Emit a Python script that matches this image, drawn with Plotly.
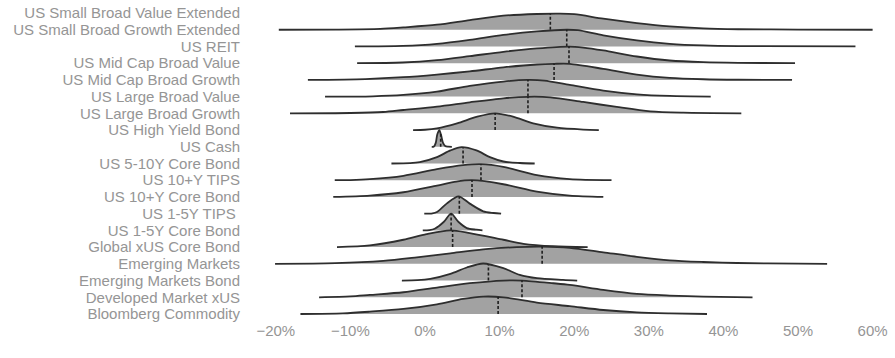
import numpy as np
import plotly.graph_objects as go

# Axis labels, top to bottom
asset_labels = [
    "US Small Broad Value Extended",
    "US Small Broad Growth Extended",
    "US REIT",
    "US Mid Cap Broad Value",
    "US Mid Cap Broad Growth",
    "US Large Broad Value",
    "US Large Broad Growth",
    "US High Yield Bond",
    "US Cash",
    "US 5-10Y Core Bond",
    "US 10+Y TIPS",
    "US 10+Y Core Bond",
    "US 1-5Y TIPS ",
    "US 1-5Y Core Bond",
    "Global xUS Core Bond",
    "Emerging Markets",
    "Emerging Markets Bond",
    "Developed Market xUS",
    "Bloomberg Commodity",
]

# Ridges (return in %, density in row heights), same order as the labels they sit on
ridge_names = asset_labels[1:]

ridge_pct = [
    [-19.6, -12, -6, -2.9, 1.6, 6, 10.5, 15, 18, 20, 23.9, 28.4, 32.8, 37.3, 42, 50, 60],
    [-9.4, -3, 1.6, 6, 10.5, 15, 19, 20.5, 23.9, 28.4, 32.8, 37.3, 42, 57.7],
    [-9.1, -3, 1.6, 6, 10.5, 15, 19.3, 21.2, 23.9, 28.4, 32.8, 37.3, 42, 49.6],
    [-15.7, -8, -2.9, 1.6, 6, 10.5, 15, 17.3, 19.4, 23.9, 28.4, 32.8, 37.3, 42, 49.2],
    [-13.4, -7, -2.9, 1.6, 6, 10.5, 13.7, 16, 19.4, 23.9, 28.4, 32.8, 38.3],
    [-18.1, -10, -5.6, -2.9, 1.6, 6, 10.5, 13.8, 16.8, 21.2, 25.7, 30.2, 34.6, 42.4],
    [-1.6, 0, 1.6, 4.3, 7, 9.4, 11.8, 14.5, 17.7, 21.2, 23.3],
    [0.9, 1.2, 1.45, 1.65, 1.92, 2.15, 2.4, 2.7, 3.1, 3.6],
    [-4.5, -2, -0.7, 1.6, 3.4, 4.9, 6.9, 8.7, 10.5, 12.7, 14.7],
    [-12.1, -10, -7.4, -2.9, 1.6, 5.1, 7.5, 10.5, 15, 19.4, 25],
    [-12.3, -7.4, -2.9, 1.6, 4.2, 6.3, 10.5, 15, 19.4, 23.9],
    [-0.1, 1.0, 1.6, 2.9, 4.5, 6.0, 7.8, 9.2, 10.2],
    [-0.3, 0.6, 1.3, 2.5, 3.5, 4.5, 5.6, 6.9, 7.7],
    [-11.8, -7.4, -2.9, 0.2, 3.4, 6, 10.5, 13.2, 17.2, 21.8],
    [-20.1, -12, -5.6, -1.1, 3.4, 7.8, 12.3, 15.7, 19.4, 23.9, 28.4, 32.8, 37.3, 41.8, 50, 53.9],
    [-3.1, -1, 0.7, 3.4, 5.6, 7.8, 10.5, 12.7, 15, 18.5, 20.4],
    [-14.2, -10, -7.4, -2.9, 1.6, 6, 10.5, 13, 17.2, 19.4, 23.9, 28.4, 32.8, 37.3, 43.9],
    [-16.7, -11, -7.4, -2.9, 1.6, 5.1, 7.8, 10.5, 15, 19.4, 23.9, 28.4, 32.8, 37.8],
]

ridge_density = [
    [0, 0.01, 0.05, 0.14, 0.30, 0.58, 0.84, 0.94, 0.96, 0.93, 0.66, 0.40, 0.20, 0.08, 0.03, 0.01, 0],
    [0, 0.03, 0.15, 0.39, 0.69, 0.90, 1.0, 0.97, 0.66, 0.36, 0.16, 0.06, 0.02, 0],
    [0, 0.04, 0.18, 0.42, 0.68, 0.88, 0.99, 0.93, 0.76, 0.40, 0.16, 0.06, 0.02, 0],
    [0, 0.05, 0.16, 0.32, 0.51, 0.75, 0.92, 0.96, 0.96, 0.66, 0.32, 0.12, 0.04, 0.01, 0],
    [0, 0.02, 0.10, 0.30, 0.64, 0.90, 1.0, 0.96, 0.70, 0.36, 0.14, 0.04, 0],
    [0, 0.02, 0.08, 0.20, 0.40, 0.66, 0.90, 0.99, 0.96, 0.68, 0.38, 0.12, 0.04, 0],
    [0, 0.02, 0.10, 0.40, 0.80, 1.0, 0.80, 0.40, 0.14, 0.03, 0],
    [0, 0.02, 0.25, 0.75, 1.0, 0.70, 0.25, 0.05, 0.01, 0],
    [0, 0.02, 0.08, 0.38, 0.78, 0.98, 0.78, 0.38, 0.12, 0.03, 0],
    [0, 0.01, 0.06, 0.26, 0.66, 0.90, 0.96, 0.80, 0.30, 0.06, 0],
    [0, 0.08, 0.28, 0.68, 0.92, 1.0, 0.76, 0.32, 0.08, 0],
    [0, 0.02, 0.10, 0.60, 1.04, 0.60, 0.14, 0.04, 0],
    [0, 0.02, 0.10, 0.50, 1.0, 0.50, 0.14, 0.04, 0],
    [0, 0.10, 0.44, 0.78, 1.0, 0.84, 0.44, 0.20, 0.05, 0],
    [0, 0.04, 0.18, 0.39, 0.63, 0.86, 1.0, 1.03, 0.96, 0.69, 0.42, 0.21, 0.11, 0.05, 0.01, 0],
    [0, 0.02, 0.10, 0.40, 0.78, 1.02, 0.74, 0.34, 0.14, 0.04, 0],
    [0, 0.05, 0.14, 0.30, 0.58, 0.84, 1.0, 1.0, 0.84, 0.74, 0.44, 0.20, 0.10, 0.04, 0],
    [0, 0.04, 0.14, 0.30, 0.58, 0.90, 1.04, 1.0, 0.68, 0.47, 0.24, 0.10, 0.04, 0],
]

medians = [16.8, 19.0, 19.3, 17.3, 13.8, 13.8, 9.4, 2.1, 5.1, 7.5, 6.3, 4.6, 3.5, 3.7, 15.7, 8.5, 13.0, 9.8]

x_ticks = [-20, -10, 0, 10, 20, 30, 40, 50, 60]
x_tick_text = ["\u221220%", "\u221210%", "0%", "10%", "20%", "30%", "40%", "50%", "60%"]

FILL = "#a2a2a2"
LINE = "#2e2e2e"
TEXT = "#959595"
FONT = "Liberation Sans, Arial, sans-serif"

n_rows = len(asset_labels)
row_of = {name: n_rows - 1 - i for i, name in enumerate(asset_labels)}

fig = go.Figure()

# draw from the top ridge downwards so lower ridges overlap the ones above
for name, pct, dens, med in zip(ridge_names, ridge_pct, ridge_density, medians):
    base = row_of[name]
    pct = np.asarray(pct, dtype=float)
    top = base + np.asarray(dens, dtype=float)

    fig.add_trace(go.Scatter(
        x=[pct[0], pct[-1]], y=[base, base], mode="lines",
        line=dict(width=0, color="rgba(0,0,0,0)"), hoverinfo="skip", showlegend=False))
    fig.add_trace(go.Scatter(
        x=pct, y=top, mode="lines", fill="tonexty", fillcolor=FILL,
        line=dict(color=LINE, width=1.8, shape="spline", smoothing=0.8),
        name=name, showlegend=False))

    h_med = base + float(np.interp(med, pct, dens))
    fig.add_trace(go.Scatter(
        x=[med, med], y=[base, h_med], mode="lines",
        line=dict(color="#1e1e1e", width=1.6, dash="3px,2px"),
        hoverinfo="skip", showlegend=False))

fig.update_layout(
    width=895, height=358,
    margin=dict(l=250, r=10, t=0, b=38),
    paper_bgcolor="white", plot_bgcolor="white",
    font=dict(family=FONT, size=15, color=TEXT),
    showlegend=False,
)
fig.update_xaxes(
    range=[-23.46, 61.66], tickvals=x_ticks, ticktext=x_tick_text,
    showgrid=False, zeroline=False, showline=False, ticks="",
    tickfont=dict(family=FONT, size=15, color=TEXT),
)
fig.update_yaxes(
    range=[-0.359, 18.778],
    tickvals=[row_of[n] for n in asset_labels], ticktext=asset_labels,
    showgrid=False, zeroline=False, showline=False, ticks="",
    ticklabelstandoff=9,
    tickfont=dict(family=FONT, size=15, color=TEXT),
)

fig.write_html("out.html")
